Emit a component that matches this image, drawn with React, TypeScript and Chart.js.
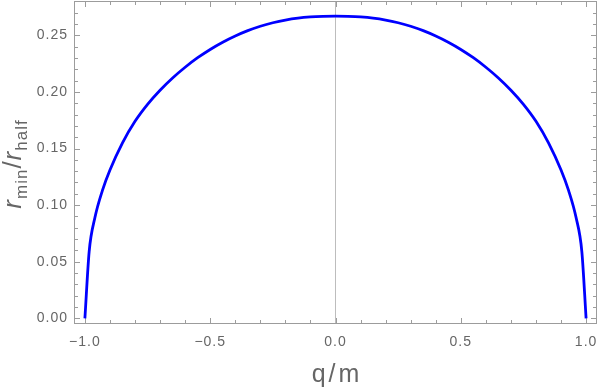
import { useEffect, useRef } from 'react';
import { Chart, registerables } from 'chart.js';

Chart.register(...registerables);

// Curve samples (q/m, r_min/r_half)
const qValues = [
  -1.0, -0.983, -0.96, -0.93, -0.9, -0.85, -0.8, -0.75, -0.7, -0.65, -0.6, -0.55, -0.5,
  -0.45, -0.4, -0.35, -0.3, -0.25, -0.2, -0.15, -0.1, -0.05, 0,
  0.05, 0.1, 0.15, 0.2, 0.25, 0.3, 0.35, 0.4, 0.45, 0.5, 0.55, 0.6, 0.65, 0.7, 0.75,
  0.8, 0.85, 0.9, 0.93, 0.96, 0.983, 1.0,
];
const rValues = [
  0, 0.059, 0.089, 0.113, 0.131, 0.155, 0.174, 0.189, 0.2015, 0.2123, 0.2218, 0.2302, 0.2375,
  0.2439, 0.2494, 0.2541, 0.258, 0.2611, 0.2635, 0.2652, 0.2662, 0.2667, 0.2669,
  0.2667, 0.2662, 0.2652, 0.2635, 0.2611, 0.258, 0.2541, 0.2494, 0.2439, 0.2375, 0.2302,
  0.2218, 0.2123, 0.2015, 0.189, 0.174, 0.155, 0.131, 0.113, 0.089, 0.059, 0,
];
const xTickValues = [-1, -0.5, 0, 0.5, 1];
const yTickValues = [0, 0.05, 0.1, 0.15, 0.2, 0.25];
const xTitle = 'q/m';
const yTitleMain = ['r', '/', 'r'];
const yTitleSubs = ['min', '', 'half'];

const TEXT = '#666666';
const FRAME = '#9c9c9c';

const fmtX = (v: number) => (v < 0 ? '\u2212' : '') + Math.abs(v).toFixed(1);
const fmtY = (v: number) => v.toFixed(2);

const framePlugin = {
  id: 'mmaFrame',
  beforeLayout(chart: any) {
    chart.ctx.letterSpacing = '1px';
  },
  beforeDraw(chart: any) {
    chart.ctx.letterSpacing = '1px';
  },
  beforeDatasetsDraw(chart: any) {
    const { ctx, chartArea: a, scales } = chart;
    const xs = scales.x;
    const ys = scales.y;
    ctx.save();
    ctx.strokeStyle = FRAME;
    ctx.lineWidth = 1;
    ctx.strokeRect(a.left + 0.5, a.top + 0.5, a.right - a.left - 1, a.bottom - a.top - 1);
    ctx.beginPath();
    for (let i = -10; i <= 10; i++) {
      const px = Math.round(xs.getPixelForValue(i / 10)) + 0.5;
      const len = i % 5 === 0 ? 5 : 3;
      ctx.moveTo(px, a.bottom - 1);
      ctx.lineTo(px, a.bottom - 1 - len);
      ctx.moveTo(px, a.top + 1);
      ctx.lineTo(px, a.top + 1 + len);
    }
    for (let i = 0; i <= 28; i++) {
      const v = i / 100;
      if (v > ys.max) break;
      const py = Math.round(ys.getPixelForValue(v)) + 0.5;
      const len = i % 5 === 0 ? 5 : 3;
      ctx.moveTo(a.left + 1, py);
      ctx.lineTo(a.left + 1 + len, py);
      ctx.moveTo(a.right - 1, py);
      ctx.lineTo(a.right - 1 - len, py);
    }
    ctx.stroke();
    ctx.restore();
  },
  afterDraw(chart: any) {
    const { ctx, chartArea: a } = chart;
    ctx.save();
    ctx.fillStyle = TEXT;
    // x title
    ctx.font = '25px "Liberation Sans", Arial, sans-serif';
    ctx.letterSpacing = '3px';
    ctx.textBaseline = 'alphabetic';
    ctx.textAlign = 'left';
    const w = ctx.measureText(xTitle).width - 3;
    const cx = (a.left + a.right) / 2;
    ctx.fillText(xTitle, cx - w / 2, 382);
    // y title (rotated)
    const mainFont = '26px "Liberation Sans", Arial, sans-serif';
    const italFont = 'italic 26px "Liberation Sans", Arial, sans-serif';
    const subFont = '17px "Liberation Sans", Arial, sans-serif';
    ctx.letterSpacing = '1px';
    const pieces: { t: string; f: string; dy: number }[] = [];
    for (let i = 0; i < yTitleMain.length; i++) {
      const m = yTitleMain[i];
      pieces.push({ t: m, f: m === 'r' ? italFont : mainFont, dy: 0 });
      if (yTitleSubs[i]) pieces.push({ t: yTitleSubs[i], f: subFont, dy: 6 });
    }
    const widths = pieces.map((p) => {
      ctx.font = p.f;
      return ctx.measureText(p.t).width;
    });
    const total = widths.reduce((s, v) => s + v, 0);
    const cy = 164;
    ctx.translate(21, cy);
    ctx.rotate(-Math.PI / 2);
    let pos = -total / 2;
    pieces.forEach((p, i) => {
      ctx.font = p.f;
      ctx.fillText(p.t, pos, p.dy);
      pos += widths[i];
    });
    ctx.restore();
  },
};

export default function App() {
  const ref = useRef<HTMLCanvasElement | null>(null);
  useEffect(() => {
    document.body.style.margin = '0';
    const canvas = ref.current;
    if (!canvas) return;
    const chart = new Chart(canvas, {
      type: 'scatter',
      data: {
        datasets: [
          {
            data: qValues.map((q, i) => ({ x: q, y: rValues[i] })),
            showLine: true,
            borderColor: '#0000ff',
            backgroundColor: '#0000ff',
            borderWidth: 2.8,
            pointRadius: 0,
            cubicInterpolationMode: 'monotone',
            fill: false,
          },
        ],
      },
      options: {
        responsive: false,
        animation: false,
        events: [],
        layout: { padding: { left: 0, right: 2, top: 1, bottom: 0 } },
        plugins: { legend: { display: false }, tooltip: { enabled: false } },
        scales: {
          x: {
            type: 'linear',
            min: -1.0435,
            max: 1.0435,
            afterFit: (s: any) => {
              s.height = 66;
              s.paddingLeft = 0;
              s.paddingRight = 0;
              s.paddingTop = 0;
              s.paddingBottom = 0;
            },
            afterBuildTicks: (s: any) => {
              s.ticks = xTickValues.map((v) => ({ value: v }));
            },
            border: { display: false },
            grid: {
              drawTicks: false,
              color: (c: any) => (c.tick && c.tick.value === 0 ? '#bdbdbd' : 'rgba(0,0,0,0)'),
              lineWidth: 1,
            },
            ticks: {
              padding: 10,
              color: TEXT,
              font: { family: '"Liberation Sans", Arial, sans-serif', size: 14 },
              maxRotation: 0,
              autoSkip: false,
              callback: (v: any) => fmtX(Number(v)),
            },
          },
          y: {
            type: 'linear',
            min: -0.005,
            max: 0.2803,
            afterFit: (s: any) => {
              s.width = 74;
              s.paddingLeft = 0;
              s.paddingRight = 0;
              s.paddingTop = 0;
              s.paddingBottom = 0;
            },
            afterBuildTicks: (s: any) => {
              s.ticks = yTickValues.map((v) => ({ value: v }));
            },
            border: { display: false },
            grid: { display: false, drawTicks: false },
            ticks: {
              padding: 6,
              color: TEXT,
              font: { family: '"Liberation Sans", Arial, sans-serif', size: 14 },
              autoSkip: false,
              callback: (v: any) => fmtY(Number(v)),
            },
          },
        },
      },
      plugins: [framePlugin],
    } as any);
    return () => chart.destroy();
  }, []);
  return <canvas ref={ref} width={599} height={390} style={{ display: 'block' }} />;
}
